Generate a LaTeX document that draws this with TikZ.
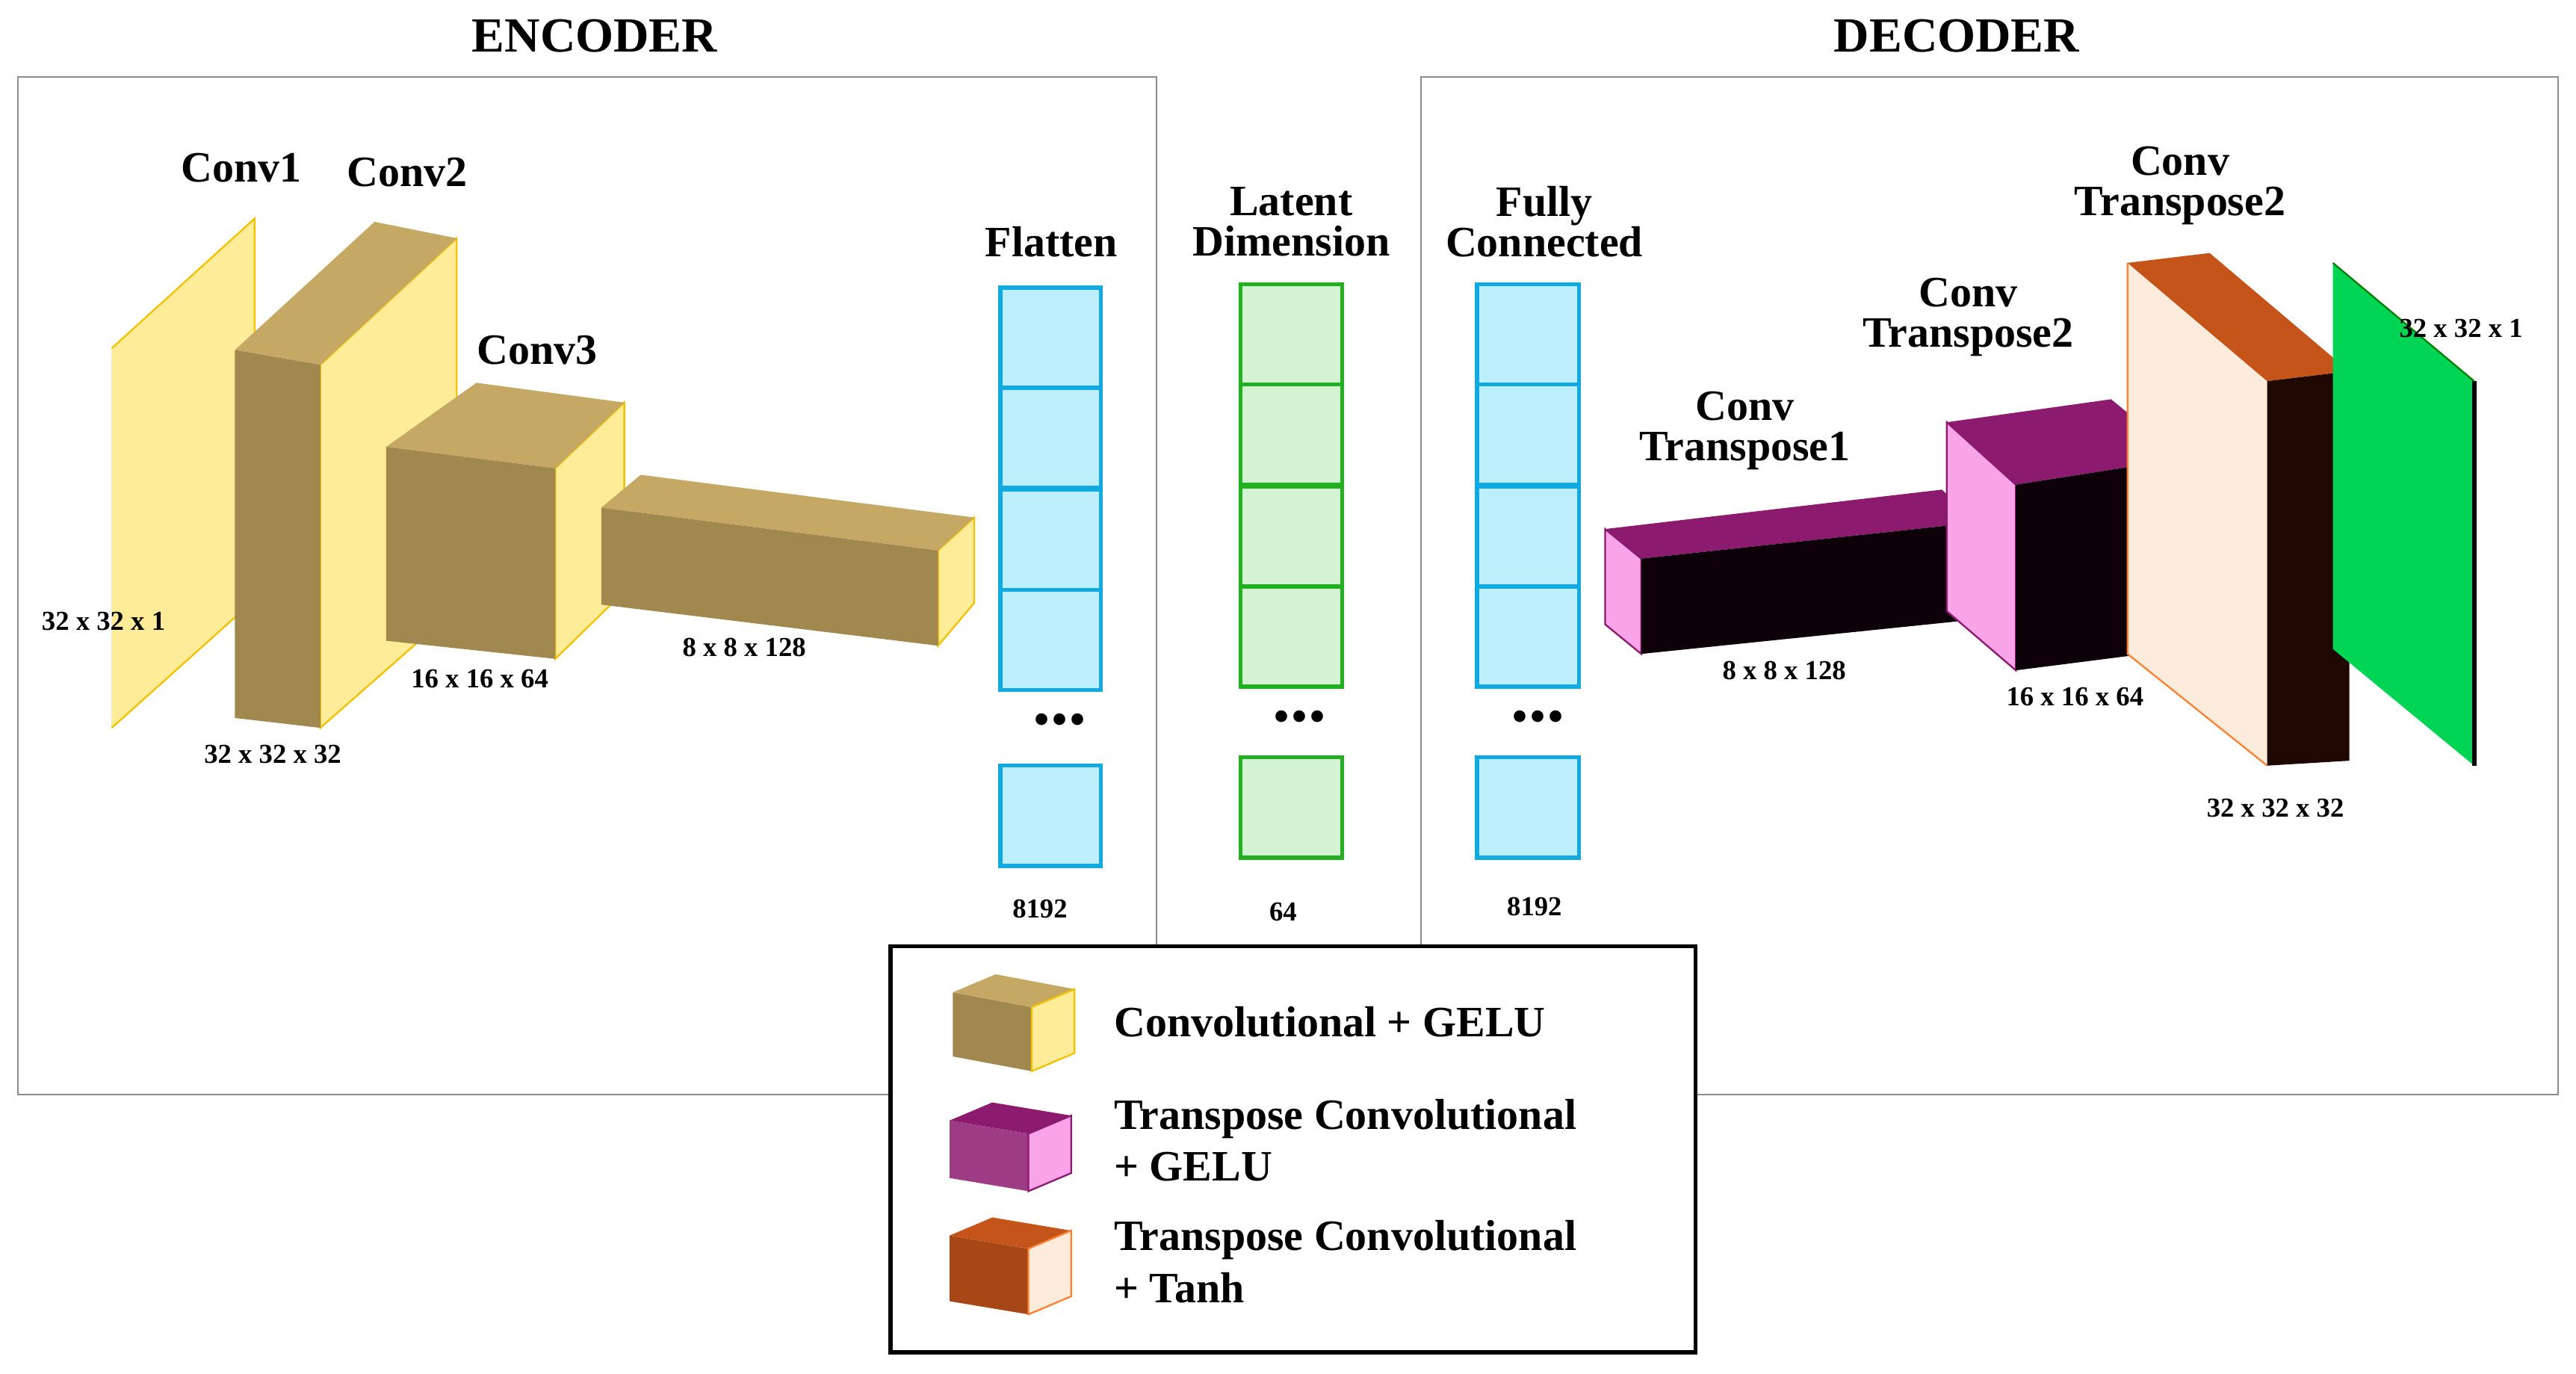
\documentclass[tikz,border=0pt]{standalone}
\usepackage{fontspec}
\setmainfont{Liberation Serif}
\begin{document}
\begin{tikzpicture}[x=0.02cm,y=-0.02cm,
  big/.style={font=\fontsize{15}{17}\selectfont\bfseries,align=center},
  small/.style={font=\fontsize{9.5}{11}\selectfont\bfseries},
  leg/.style={font=\fontsize{15}{18}\selectfont\bfseries,anchor=west,align=left},
  frame/.style={draw=black!45,line width=0.5pt},
  tanT/.style={fill=tanT,draw=none},
  tanF/.style={fill=tanF,draw=none},
  yel/.style={fill=yelS,draw=goldE,line width=0.6pt},
  cyancell/.style={fill=cyanF,draw=cyanE,line width=1.4pt},
  greencell/.style={fill=grnF,draw=grnE,line width=1.4pt}]
\definecolor{tanT}{HTML}{C4A864}\definecolor{tanF}{HTML}{A0884F}
\definecolor{yelS}{HTML}{FFEC99}\definecolor{goldE}{HTML}{F2C200}
\definecolor{cyanF}{HTML}{BDEEFB}\definecolor{cyanE}{HTML}{12A9DF}
\definecolor{grnF}{HTML}{D3F3D3}\definecolor{grnE}{HTML}{22B022}
\definecolor{purT}{HTML}{8C1A6E}\definecolor{pinkS}{HTML}{F9A3E8}\definecolor{blk}{HTML}{0E0008}
\definecolor{orT}{HTML}{C4541A}\definecolor{peach}{HTML}{FDEBDC}\definecolor{dbr}{HTML}{1E0800}
\definecolor{orE}{HTML}{FF8030}\definecolor{gpl}{HTML}{00D455}
\path[use as bounding box] (0,0) rectangle (1568,836);
% frames
\draw[frame] (11,47) rectangle (704,666);
\draw[frame] (865,47) rectangle (1557,666);
\node[big,font=\fontsize{17}{19}\selectfont\bfseries] (enc) at (362,22) {ENCODER};
\node[big,font=\fontsize{17}{19}\selectfont\bfseries] (dec) at (1191,22) {DECODER};
% Conv1 plane
\fill[yelS] (68,212) -- (155,133) -- (155,365) -- (68,443) -- cycle;
\draw[goldE,line width=0.6pt] (68,212) -- (155,133) -- (155,365) (68,443) -- (155,365);
\draw[tanF,line width=1.5pt] (68,212) -- (68,443);
% Conv2
\filldraw[yel] (195,222) -- (278,145) -- (278,370) -- (195,443) -- cycle;
\fill[tanT] (143,213) -- (228,135) -- (278,145) -- (195,222) -- cycle;
\fill[tanF] (143,213) -- (195,222) -- (195,443) -- (143,437) -- cycle;
% Conv3
\filldraw[yel] (338,285) -- (380,245) -- (380,360) -- (338,401) -- cycle;
\fill[tanT] (235,272) -- (290,233) -- (380,245) -- (338,285) -- cycle;
\fill[tanF] (235,272) -- (338,285) -- (338,401) -- (235,390) -- cycle;
% Conv4 box
\filldraw[yel] (571,335) -- (593,315) -- (593,367) -- (571,393) -- cycle;
\fill[tanT] (366,309) -- (390,289) -- (593,315) -- (571,335) -- cycle;
\fill[tanF] (366,309) -- (571,335) -- (571,393) -- (366,368) -- cycle;
\node[big] (c1) at (147,102) {Conv1};
\node[big] (c2) at (248,105) {Conv2};
\node[big] (c3) at (327,213) {Conv3};
\node[small] (s1) at (63,378) {32 x 32 x 1};
\node[small] (s2) at (166,459) {32 x 32 x 32};
\node[small] (s3) at (292,413) {16 x 16 x 64};
\node[small] (s4) at (453,394) {8 x 8 x 128};
% Flatten
\foreach \y in {175,236,298,359} \draw[cyancell] (609,\y) rectangle (670,\y+61);
\draw[cyancell] (609,466) rectangle (670,527);
\node[font=\Huge\bfseries] (d1) at (645,438) {...};
\node[big] (fl) at (640,147) {Flatten};
\node[small] (n1) at (633,553) {8192};
% Latent
\foreach \y in {173,234,296,357} \draw[greencell] (755,\y) rectangle (817,\y+61);
\draw[greencell] (755,461) rectangle (817,522);
\node[font=\Huge\bfseries] (d2) at (791,436) {...};
\node[big] (lt) at (786,135) {Latent\\[-3pt]Dimension};
\node[small] (n2) at (781,555) {64};
% FC
\foreach \y in {173,234,296,357} \draw[cyancell] (899,\y) rectangle (961,\y+61);
\draw[cyancell] (899,461) rectangle (961,522);
\node[font=\Huge\bfseries] (d3) at (936,436) {...};
\node[big] (fc) at (940,135) {Fully\\[-3pt]Connected};
\node[small] (n3) at (934,552) {8192};
% CT1
\filldraw[fill=pinkS,draw=purT,line width=0.6pt] (977,322) -- (999,340) -- (999,398) -- (977,380) -- cycle;
\fill[purT] (977,322) -- (1182,298) -- (1203,318) -- (999,340) -- cycle;
\fill[blk] (999,340) -- (1203,318) -- (1203,377) -- (999,398) -- cycle;
\node[big] (t1) at (1062,262) {Conv\\[-3pt]Transpose1};
\node[small] (s5) at (1086,408) {8 x 8 x 128};
% CT2
\filldraw[fill=pinkS,draw=purT,line width=0.6pt] (1185,257) -- (1227,295) -- (1227,408) -- (1185,372) -- cycle;
\fill[purT] (1185,257) -- (1285,243) -- (1329,279) -- (1227,295) -- cycle;
\fill[blk] (1227,295) -- (1329,279) -- (1329,395) -- (1227,408) -- cycle;
\node[big] (t2) at (1198,193) {Conv\\[-3pt]Transpose2};
\node[small] (s6) at (1263,424) {16 x 16 x 64};
% CT3
\fill[peach] (1295,160) -- (1380,232) -- (1380,466) -- (1295,398) -- cycle;
\draw[orE,line width=0.6pt] (1295,160) -- (1295,398) -- (1380,466);
\fill[orT] (1295,160) -- (1345,154) -- (1430,226) -- (1380,232) -- cycle;
\fill[dbr] (1380,232) -- (1430,226) -- (1430,463) -- (1380,466) -- cycle;
\node[big] (t3) at (1327,113) {Conv\\[-3pt]Transpose2};
\node[small] (s7) at (1385,492) {32 x 32 x 32};
% output plane
\fill[gpl] (1420,160) -- (1506,232) -- (1506,466) -- (1420,395) -- cycle;
\draw[black,line width=1.5pt] (1506,232) -- (1506,466);
\draw[green!50!black,line width=0.6pt] (1420,160) -- (1506,232);
\node[small] (s8) at (1498,200) {32 x 32 x 1};
% legend
\draw[line width=1.4pt,fill=white] (542,576) rectangle (1032,823);
\fill[tanF] (580,604) -- (628,613) -- (628,652) -- (580,643) -- cycle;
\fill[tanT] (580,604) -- (606,593) -- (654,602) -- (628,613) -- cycle;
\filldraw[yel] (628,613) -- (654,602) -- (654,641) -- (628,652) -- cycle;
\node[leg] (l1) at (672,622) {Convolutional + GELU};
\fill[purT!85!white] (578,682) -- (626,690) -- (626,725) -- (578,717) -- cycle;
\fill[purT] (578,682) -- (604,671) -- (652,679) -- (626,690) -- cycle;
\filldraw[fill=pinkS,draw=purT,line width=0.6pt] (626,690) -- (652,679) -- (652,714) -- (626,725) -- cycle;
\node[leg] (l2) at (672,694) {Transpose Convolutional\\+ GELU};
\fill[orT!85!black] (578,752) -- (626,760) -- (626,800) -- (578,792) -- cycle;
\fill[orT] (578,752) -- (604,741) -- (652,749) -- (626,760) -- cycle;
\filldraw[fill=peach,draw=orE,line width=0.6pt] (626,760) -- (652,749) -- (652,789) -- (626,800) -- cycle;
\node[leg] (l3) at (672,768) {Transpose Convolutional\\+ Tanh};
\end{tikzpicture}
\end{document}
